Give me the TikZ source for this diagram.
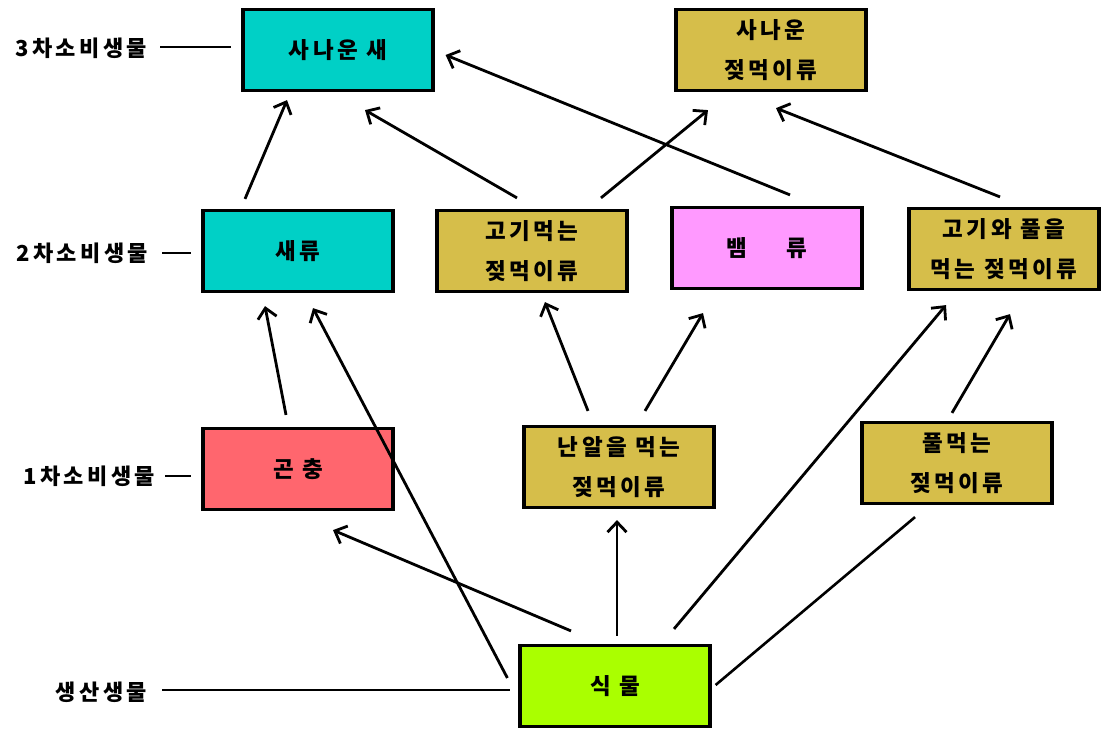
\documentclass[tikz,border=0pt]{standalone}
\usepackage{fontspec}
\setmainfont{Noto Sans CJK KR}
\newfontfamily\kr{Noto Sans CJK KR}[LetterSpace=15]
\usetikzlibrary{arrows.meta,calc}
\definecolor{cyanbox}{RGB}{0,208,198}
\definecolor{goldbox}{RGB}{214,190,74}
\definecolor{pinkbox}{RGB}{255,102,110}
\definecolor{magbox}{RGB}{255,153,255}
\definecolor{limebox}{RGB}{170,255,0}
\tikzset{
  box/.style={draw=black, line width=3.2pt, minimum width=190pt, minimum height=81pt,
    inner sep=0pt, align=center, font=\kr\fontsize{22.5}{40}\selectfont\bfseries},
  lvl/.style={anchor=east, inner sep=0pt, font=\kr\fontsize{22}{24}\selectfont\bfseries},
  arr/.style={line width=2.8pt, -{Straight Barb[length=10pt,width=19pt,line width=2.8pt]}},
  ln/.style={line width=2.6pt},
}
\begin{document}
\begin{tikzpicture}[x=1pt,y=-1pt]
\useasboundingbox (0,0) rectangle (1105,731);
% boxes
\node[box, fill=cyanbox] (sns) at (338,50) {사나운 새};
\node[box, fill=goldbox] (sjm) at (771,50) {사나운\\젖먹이류};
\node[box, fill=cyanbox] (sr) at (298,251) {새류};
\node[box, fill=goldbox] (gm) at (532,251) {고기먹는\\젖먹이류};
\node[box, fill=magbox] (bm) at (767,248) {뱀\hspace{40pt}류};
\node[box, fill=goldbox] (gp) at (1004,249) {고기와 풀을\\먹는 젖먹이류};
\node[box, fill=pinkbox] (gc) at (298,469) {곤 충};
\node[box, fill=goldbox] (na) at (619,467) {난알을 먹는\\젖먹이류};
\node[box, fill=goldbox] (pm) at (957,463) {풀먹는\\젖먹이류};
\node[box, fill=limebox] (sm) at (615,686) {식 물};
% level labels
\node[lvl] (l3) at (147,48) {3차소비생물};
\node[lvl] (l2) at (148,253) {2차소비생물};
\node[lvl] (l1) at (155,476) {1차소비생물};
\node[lvl] (l0) at (147,692) {생산생물};
\draw[ln] ($(l3.east)+(13,-1)$) -- ($(l3.east -| sns.west)+(-10,-1)$);
\draw[ln] ($(l2.east)+(14,0)$) -- ($(l2.east -| sr.west)+(-10,0)$);
\draw[ln] ($(l1.east)+(10,0)$) -- ($(l1.east -| gc.west)+(-10,0)$);
\draw[ln] ($(l0.east)+(15,-2)$) -- ($(l0.east -| sm.west)+(-8,-2)$);
% arrows
\draw[arr] ($(gc.north)+(-12,-12)$) -- ($(sr.south)+(-33,13)$);
\draw[arr] ($(sm.west)+(-11,-8)$) -- ($(sr.south)+(15,15)$);
\draw[arr] ($(sm.north)+(-44,-13)$) -- ($(gc.south)+(35,19)$);
\draw[arr] ($(sm.north)+(2,-8)$) -- ($(na.south)+(-2,11)$);
\draw[arr] ($(sm.north)+(59,-15)$) -- ($(gp.south)+(-58,14)$);
\draw[ln] ($(sm.east)+(4,-1)$) -- ($(pm.south)+(-42,12)$);
\draw[arr] ($(pm.north)+(-5,-8)$) -- ($(gp.south)+(6,23)$);
\draw[arr] ($(na.north)+(-31,-14)$) -- ($(gm.south)+(13,9)$);
\draw[arr] ($(na.north)+(26,-14)$) -- ($(bm.south)+(-64,23)$);
\draw[arr] ($(sr.north)+(-53,-10)$) -- ($(sns.south)+(-51,8)$);
\draw[arr] ($(gm.north)+(-15,-11)$) -- ($(sns.south)+(27,18)$);
\draw[arr] ($(gm.north)+(69,-11)$) -- ($(sjm.south)+(-63,18)$);
\draw[arr] ($(bm.north)+(23,-11)$) -- ($(sns.east)+(11,5)$);
\draw[arr] ($(gp.north)+(-4,-10)$) -- ($(sjm.south)+(5,16)$);
\end{tikzpicture}
\end{document}
